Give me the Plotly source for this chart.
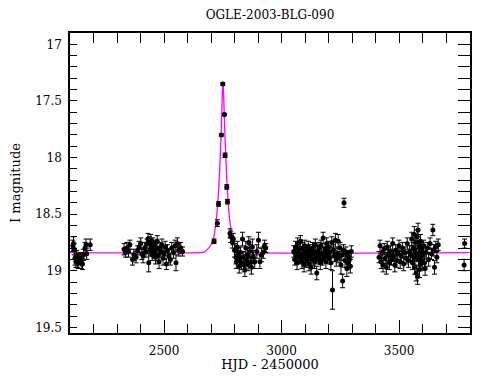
import plotly.graph_objects as go

# Season 1 (2002 start)
t1 = [2112, 2115, 2118, 2121, 2125, 2128, 2131, 2135, 2139, 2143, 2148, 2153, 2157, 2164, 2168, 2171, 2186]
m1 = [18.78, 18.76, 18.81, 18.89, 18.92, 18.87, 18.91, 18.93, 18.90, 18.89, 18.92, 18.94, 18.86, 18.80, 18.77, 18.85, 18.77]
e1 = [0.05, 0.06, 0.05, 0.06, 0.05, 0.05, 0.06, 0.05, 0.05, 0.05, 0.06, 0.05, 0.05, 0.05, 0.05, 0.05, 0.05]

# Season 2
t2 = [2330, 2336, 2342, 2349, 2355, 2366, 2372, 2381, 2388, 2394,
      2401, 2406, 2411, 2418, 2423, 2428, 2432, 2435, 2438, 2441,
      2444, 2447, 2450, 2453, 2457, 2460, 2464, 2468, 2471, 2475,
      2479, 2483, 2487, 2491, 2496, 2500, 2505, 2510, 2515, 2521,
      2527, 2533, 2540, 2547, 2551, 2557, 2563, 2571, 2579]
m2 = [18.81, 18.84, 18.80, 18.83, 18.77, 18.90, 18.86, 18.88, 18.82, 18.79,
      18.76, 18.85, 18.87, 18.80, 18.83, 18.76, 18.72, 18.93, 18.75, 18.82,
      18.73, 18.79, 18.86, 18.76, 18.84, 18.78, 18.88, 18.81, 18.74, 18.86,
      18.92, 18.80, 18.83, 18.77, 18.89, 18.85, 18.79, 18.94, 18.82, 18.87,
      18.90, 18.80, 18.84, 18.78, 18.93, 18.76, 18.82, 18.80, 18.83]
e2 = [0.05, 0.04, 0.05, 0.05, 0.04, 0.05, 0.05, 0.05, 0.04, 0.05,
      0.05, 0.05, 0.06, 0.05, 0.05, 0.04, 0.05, 0.08, 0.05, 0.05,
      0.05, 0.06, 0.05, 0.05, 0.05, 0.05, 0.06, 0.05, 0.05, 0.05,
      0.06, 0.05, 0.05, 0.05, 0.06, 0.05, 0.05, 0.05, 0.05, 0.06,
      0.05, 0.05, 0.05, 0.05, 0.07, 0.05, 0.05, 0.05, 0.04]

# Season 3 (event)
t3 = [2713, 2727, 2732, 2744, 2750, 2757, 2760, 2767, 2770, 2781,
      2784, 2791, 2795, 2800, 2806, 2808, 2812, 2816, 2820, 2822,
      2826, 2830, 2834, 2837, 2841, 2844, 2848, 2851, 2855, 2858,
      2861, 2865, 2869, 2872, 2876, 2880, 2886, 2895, 2902, 2908,
      2915, 2922, 2928, 2933]
m3 = [18.74, 18.58, 18.41, 17.80, 17.35, 17.62, 17.98, 18.26, 18.39, 18.67,
      18.70, 18.75, 18.72, 18.82, 18.88, 18.92, 18.79, 18.86, 18.96, 18.90,
      18.84, 18.93, 18.72, 18.88, 18.95, 18.99, 18.80, 18.91, 18.86, 18.94,
      18.75, 18.83, 18.92, 18.97, 18.79, 18.88, 18.92, 18.83, 18.73, 18.92,
      18.86, 18.84, 18.78, 18.80]
e3 = [0.02, 0.03, 0.02, 0.01, 0.01, 0.01, 0.02, 0.02, 0.02, 0.04,
      0.05, 0.05, 0.05, 0.06, 0.06, 0.06, 0.05, 0.06, 0.06, 0.06,
      0.05, 0.06, 0.06, 0.05, 0.06, 0.06, 0.06, 0.05, 0.06, 0.06,
      0.05, 0.06, 0.05, 0.06, 0.07, 0.06, 0.06, 0.06, 0.07, 0.06,
      0.06, 0.05, 0.05, 0.04]

# Season 4
t4 = [3052, 3056, 3060, 3063, 3066, 3069, 3072, 3075, 3078, 3081,
      3084, 3087, 3090, 3093, 3096, 3099, 3102, 3105, 3108, 3111,
      3114, 3117, 3120, 3123, 3126, 3129, 3132, 3135, 3138, 3141,
      3144, 3147, 3150, 3153, 3156, 3159, 3162, 3165, 3168, 3171,
      3174, 3177, 3180, 3183, 3186, 3189, 3192, 3195, 3198, 3201,
      3204, 3207, 3210, 3214, 3217, 3221, 3225, 3229, 3233, 3237,
      3241, 3245, 3249, 3253, 3257, 3260, 3264, 3266, 3270, 3274,
      3278, 3281, 3285, 3289, 3293, 3297]
m4 = [18.83, 18.90, 18.79, 18.86, 18.93, 18.76, 18.84, 18.81, 18.89, 18.74,
      18.87, 18.92, 18.80, 18.85, 18.95, 18.78, 18.88, 18.83, 18.91, 18.86,
      18.79, 18.94, 18.82, 18.88, 18.97, 18.85, 18.80, 18.90, 18.84, 18.92,
      18.77, 18.87, 19.02, 18.83, 18.89, 18.80, 18.86, 18.93, 18.78, 18.85,
      18.90, 18.71, 18.84, 18.88, 18.81, 18.92, 18.76, 18.86, 18.83, 18.79,
      18.89, 18.84, 18.93, 18.75, 19.17, 18.82, 18.87, 18.73, 18.90, 18.85,
      18.74, 18.88, 18.80, 18.95, 18.86, 19.09, 18.82, 18.40, 18.91, 18.84,
      18.98, 18.93, 18.87, 18.90, 18.96, 18.83]
e4 = [0.05, 0.05, 0.05, 0.05, 0.06, 0.05, 0.05, 0.05, 0.05, 0.05,
      0.05, 0.06, 0.05, 0.05, 0.06, 0.05, 0.05, 0.05, 0.06, 0.05,
      0.05, 0.06, 0.05, 0.05, 0.06, 0.05, 0.05, 0.05, 0.05, 0.06,
      0.05, 0.05, 0.06, 0.05, 0.05, 0.05, 0.05, 0.06, 0.05, 0.05,
      0.05, 0.05, 0.05, 0.05, 0.05, 0.06, 0.05, 0.05, 0.05, 0.05,
      0.05, 0.05, 0.06, 0.05, 0.17, 0.05, 0.05, 0.06, 0.06, 0.05,
      0.06, 0.05, 0.05, 0.08, 0.05, 0.06, 0.05, 0.04, 0.06, 0.05,
      0.07, 0.06, 0.05, 0.06, 0.06, 0.05]

# Season 5
t5 = [3415, 3419, 3424, 3428, 3432, 3437, 3441, 3446, 3450, 3455,
      3459, 3464, 3468, 3473, 3477, 3482, 3486, 3491, 3495, 3500,
      3505, 3510, 3515, 3520, 3525, 3530, 3535, 3540, 3545, 3550,
      3554, 3557, 3560, 3563, 3565, 3567, 3569, 3571, 3573, 3575,
      3577, 3579, 3581, 3583, 3585, 3587, 3589, 3591, 3593, 3595,
      3597, 3599, 3602, 3605, 3608, 3611, 3615, 3620, 3626, 3632,
      3638, 3644, 3648, 3651, 3656, 3661, 3667]
m5 = [18.88, 18.78, 18.92, 18.84, 18.95, 18.81, 18.89, 18.97, 18.79, 18.86,
      18.93, 18.83, 18.90, 18.76, 18.87, 18.95, 18.82, 18.91, 18.85, 18.78,
      18.92, 18.87, 18.80, 18.94, 18.84, 18.89, 18.76, 18.91, 18.83, 18.86,
      18.72, 18.93, 18.80, 18.88, 18.68, 18.97, 18.84, 18.75, 19.02, 18.86,
      18.70, 19.05, 18.64, 18.90, 18.79, 18.99, 18.83, 18.74, 18.94, 18.87,
      18.81, 18.92, 18.85, 18.78, 18.93, 18.98, 18.84, 18.80, 18.90, 18.76,
      18.85, 18.64, 18.82, 18.97, 18.79, 18.88, 18.77]
e5 = [0.05, 0.05, 0.06, 0.05, 0.06, 0.05, 0.05, 0.06, 0.05, 0.05,
      0.06, 0.05, 0.05, 0.05, 0.05, 0.06, 0.05, 0.06, 0.05, 0.05,
      0.06, 0.05, 0.05, 0.06, 0.05, 0.05, 0.05, 0.06, 0.05, 0.05,
      0.06, 0.06, 0.05, 0.06, 0.07, 0.06, 0.06, 0.06, 0.07, 0.06,
      0.06, 0.07, 0.06, 0.06, 0.06, 0.07, 0.06, 0.06, 0.06, 0.06,
      0.06, 0.06, 0.05, 0.05, 0.06, 0.06, 0.05, 0.05, 0.06, 0.05,
      0.05, 0.05, 0.05, 0.06, 0.05, 0.05, 0.05]

# Season 6
t6 = [3777, 3779]
m6 = [18.95, 18.76]
e6 = [0.05, 0.04]

# Model fit curve
fit_t = [2100, 2640, 2670, 2690, 2700, 2710, 2718, 2725, 2732, 2738, 2742, 2746, 2749,
         2751, 2753, 2756, 2760, 2764, 2770, 2777, 2784, 2792, 2802, 2812, 2832, 2862, 3800]
fit_m = [18.84, 18.84, 18.835, 18.80, 18.77, 18.72, 18.62, 18.50, 18.30, 18.05, 17.85, 17.60, 17.40,
         17.35, 17.40, 17.60, 17.85, 18.05, 18.30, 18.50, 18.62, 18.72, 18.77, 18.80, 18.835, 18.84, 18.84]

t_all = t1 + t2 + t3 + t4 + t5 + t6
m_all = m1 + m2 + m3 + m4 + m5 + m6
e_all = e1 + e2 + e3 + e4 + e5 + e6

X_RANGE = [2100, 3802]
Y_RANGE = [19.55, 16.9]

FONT = "DejaVu Serif"

fig = go.Figure()
fig.add_trace(go.Scatter(
    x=fit_t, y=fit_m, mode="lines", line=dict(color="#ff00ff", width=1.3),
    line_shape="spline", hoverinfo="skip", showlegend=False))
fig.add_trace(go.Scatter(
    x=t_all, y=m_all, mode="markers",
    marker=dict(color="black", size=5),
    error_y=dict(type="data", array=e_all, color="black", thickness=1, width=2.5),
    showlegend=False))
# invisible trace on mirrored axes (for top/right ticks)
fig.add_trace(go.Scatter(x=[X_RANGE[0]], y=[Y_RANGE[0]], xaxis="x2", yaxis="y2",
                         mode="markers", marker=dict(opacity=0), hoverinfo="skip", showlegend=False))

common_line = dict(showgrid=False, zeroline=False, showline=True, linecolor="black", linewidth=1.5,
                   ticks="inside", tickwidth=1, tickcolor="black", automargin=False)

# page body has an 8px margin: figure is 474x364 so page is exactly 490x380
fig.update_layout(
    width=474, height=364,
    margin=dict(l=62, r=12, t=25, b=39, autoexpand=False),
    paper_bgcolor="white", plot_bgcolor="white",
    font=dict(family=FONT, size=12, color="black"),
    title=dict(text="OGLE-2003-BLG-090", x=0.5527, xanchor="center", y=0.981, yanchor="middle",
               automargin=False, font=dict(family=FONT, size=12, color="black")),
    xaxis=dict(range=X_RANGE, tickmode="linear", tick0=2500, dtick=500, ticklen=13,
               minor=dict(dtick=100, tick0=2100, ticks="inside", ticklen=9, tickcolor="black", tickwidth=1),
               title=dict(text="HJD - 2450000", font=dict(family=FONT, size=13), standoff=19),
               ticklabelstandoff=6,
               tickfont=dict(family=FONT, size=12), **common_line),
    yaxis=dict(range=Y_RANGE, tickmode="linear", tick0=17, dtick=0.5, ticklen=7,
               minor=dict(dtick=0.1, tick0=17, ticks="inside", ticklen=7, tickcolor="black", tickwidth=1),
               title=dict(text="I magnitude", font=dict(family=FONT, size=13), standoff=14),
               ticklabelstandoff=4,
               tickfont=dict(family=FONT, size=12), **common_line),
    xaxis2=dict(range=X_RANGE, overlaying="x", side="top", tickmode="linear", tick0=2100, dtick=100,
                ticklen=10, showticklabels=False, **common_line),
    yaxis2=dict(range=Y_RANGE, overlaying="y", side="right", tickmode="linear", tick0=17, dtick=0.1,
                ticklen=12, showticklabels=False, **common_line),
)

fig.write_html("out.html")
